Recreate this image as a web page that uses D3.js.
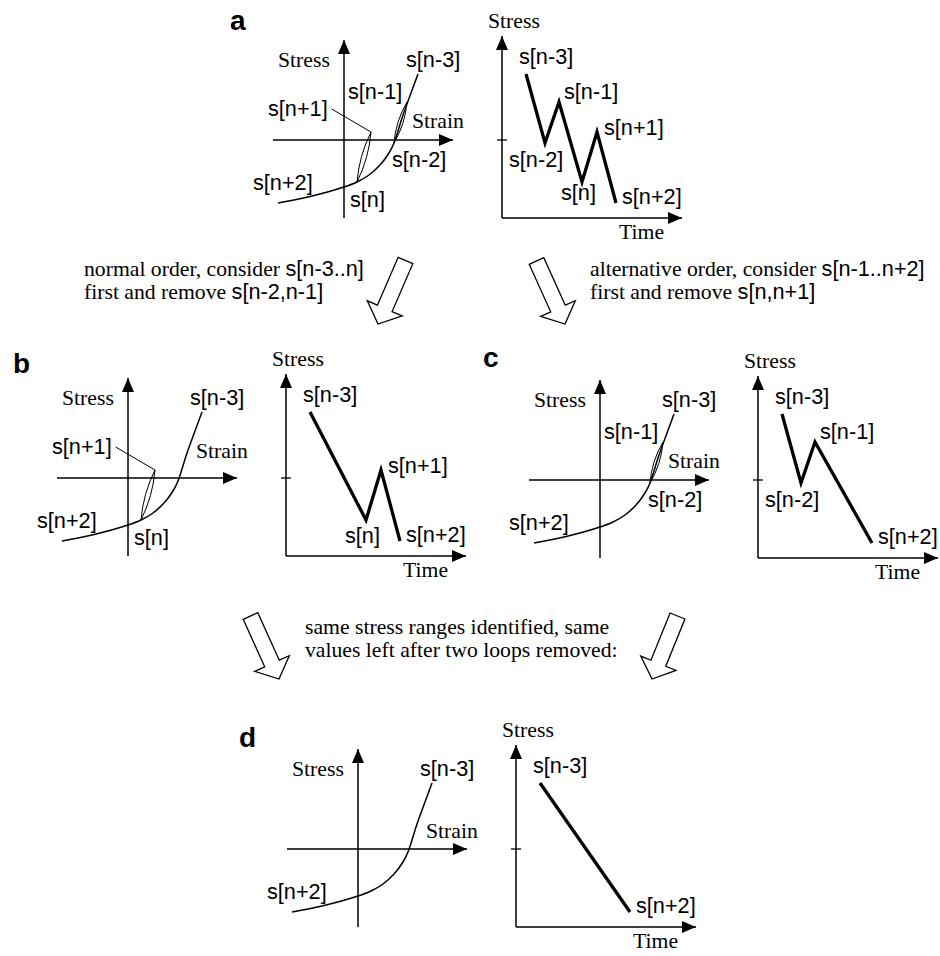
<!DOCTYPE html>
<html>
<head>
<meta charset="utf-8">
<script src="https://cdn.jsdelivr.net/npm/d3@7"></script>
<style>
  body { margin: 0; background: #fff; }
  svg { display: block; }
  .serif { font-family: "Liberation Serif", "Times New Roman", serif; font-size: 21.7px; }
  .sans { font-family: "Liberation Sans", Arial, sans-serif; font-size: 21.7px; }
</style>
</head>
<body>
<svg id="chart" width="940" height="956"></svg>
<script>
// turning points of the stress history
var pointNames = ["s[n-3]", "s[n-2]", "s[n-1]", "s[n]", "s[n+1]", "s[n+2]"];
var pointStress = [6.6, -0.3, 3.8, -4.2, 0.8, -6.3];
var pointStrain = [7.4, 5.0, 6.3, 1.3, 2.7, -6.6];
var pointTime = [2.4, 4.3, 5.7, 8.0, 9.5, 11.4];

// cyclic stress-strain curve
var envelopeStrain = [-6.6, -3.6, 0, 1.3, 2.5, 3.6, 4.5, 5.0, 5.9, 6.7, 7.4];
var envelopeStress = [-6.3, -5.7, -4.7, -4.2, -3.5, -2.5, -1.3, -0.3, 2.5, 4.7, 6.6];

// what is left in each panel (indices into the points above)
var panelIds = ["a", "b", "c", "d"];
var panelPoints = [[0, 1, 2, 3, 4, 5], [0, 3, 4, 5], [0, 1, 2, 5], [0, 5]];
var panelLoops = [[[3, 4], [1, 2]], [[3, 4]], [[1, 2]], []];

// captions: [serif part, sans part]
var noteTopLeft = [["normal order, consider ", "s[n-3..n]"], ["first and remove ", "s[n-2,n-1]"]];
var noteTopRight = [["alternative order, consider ", "s[n-1..n+2]"], ["first and remove ", "s[n,n+1]"]];
var noteBottom = [["same stress ranges identified, same", ""], ["values left after two loops removed:", ""]];

// ---- layout ----
var panelOrigin = [[344, 140], [128, 478], [600, 480], [358, 849]];
var letterPos = [[230, 30], [13, 373], [483, 367], [239, 747]];
var timeShift = 158;
var ssLabelOff = { "s[n-3]": [-12, -7], "s[n-2]": [-2, 24], "s[n-1]": [-59, -3], "s[n]": [-7, 25], "s[n+1]": [-103, -16], "s[n+2]": [-25, -13] };
var thLabelOff = { "s[n-3]": [-7, -10], "s[n-2]": [-36, 24], "s[n-1]": [5, -3], "s[n]": [-21, 18], "s[n+1]": [7, 3], "s[n+2]": [6, 1] };
var thLabelOverride = { "b": { "s[n]": [-21, 23] } };
var strainLabelY = [-12, -20, -12, -11];
var blockArrows = [
  [[405.5, 260.5], [378, 324]],
  [[536.5, 261], [565, 324]],
  [[250.5, 616], [279, 679]],
  [[677.5, 616], [652, 679]]
];

var svg = d3.select("#chart");

svg.append("defs").append("marker")
  .attr("id", "tip")
  .attr("viewBox", "0 -6 14 12")
  .attr("refX", 14).attr("refY", 0)
  .attr("markerUnits", "userSpaceOnUse")
  .attr("markerWidth", 14).attr("markerHeight", 12)
  .attr("orient", "auto")
  .append("path").attr("d", "M0,-6L14,0L0,6Z").attr("fill", "#000");

var strainX = d3.scaleLinear().domain([-7.1, 10.9]).range([-71, 109]);
var stressY = d3.scaleLinear().domain([-7.8, 10]).range([78, -100]);
var timeX = d3.scaleLinear().domain([0, 18]).range([0, 180]);
var timeTop = 10.4;

var envelope = envelopeStrain.map(function (e, i) { return [e, envelopeStress[i]]; });
var curve = d3.line()
  .x(function (d) { return strainX(d[0]); })
  .y(function (d) { return stressY(d[1]); })
  .curve(d3.curveCatmullRom.alpha(0.5));

function axisLine(g, x1, y1, x2, y2) {
  g.append("line")
    .attr("x1", x1).attr("y1", y1).attr("x2", x2).attr("y2", y2)
    .attr("stroke", "#000").attr("stroke-width", 1.5)
    .attr("marker-end", "url(#tip)");
}

function label(g, x, y, txt, cls) {
  return g.append("text").attr("class", cls).attr("x", x).attr("y", y).text(txt);
}

panelIds.forEach(function (id, p) {
  var o = panelOrigin[p];
  svg.append("text")
    .attr("x", letterPos[p][0]).attr("y", letterPos[p][1])
    .attr("font-family", "Liberation Sans, Arial, sans-serif")
    .attr("font-size", 28).attr("font-weight", "bold")
    .text(id);

  // stress-strain plot
  var ss = svg.append("g").attr("transform", "translate(" + o[0] + "," + o[1] + ")");
  axisLine(ss, strainX(-7.1), stressY(0), strainX(10.9), stressY(0));
  axisLine(ss, strainX(0), stressY(-7.8), strainX(0), stressY(10));
  ss.append("path").attr("d", curve(envelope))
    .attr("fill", "none").attr("stroke", "#000").attr("stroke-width", 1.5);

  panelLoops[p].forEach(function (lp) {
    var x1 = strainX(pointStrain[lp[0]]), y1 = stressY(pointStress[lp[0]]);
    var x2 = strainX(pointStrain[lp[1]]), y2 = stressY(pointStress[lp[1]]);
    var mx = (x1 + x2) / 2, my = (y1 + y2) / 2;
    var len = Math.hypot(x2 - x1, y2 - y1);
    var nx = -(y2 - y1) / len * 5, ny = (x2 - x1) / len * 5;
    var path = d3.path();
    path.moveTo(x1, y1);
    path.quadraticCurveTo(mx + nx, my + ny, x2, y2);
    path.quadraticCurveTo(mx - nx, my - ny, x1, y1);
    ss.append("path").attr("d", path.toString())
      .attr("fill", "none").attr("stroke", "#000").attr("stroke-width", 1);
  });

  label(ss, -66, -73, "Stress", "serif");
  label(ss, 68, strainLabelY[p], "Strain", "serif");

  panelPoints[p].forEach(function (k) {
    var name = pointNames[k];
    var px = strainX(pointStrain[k]), py = stressY(pointStress[k]);
    var off = ssLabelOff[name];
    var t = label(ss, px + off[0], py + off[1], name, "sans");
    if (name === "s[n+1]") {
      var w = t.node().getComputedTextLength();
      ss.append("line")
        .attr("x1", px + off[0] + w + 4).attr("y1", py + off[1] - 7)
        .attr("x2", px).attr("y2", py)
        .attr("stroke", "#000").attr("stroke-width", 1);
    }
  });

  // stress-time plot
  var th = svg.append("g").attr("transform", "translate(" + (o[0] + timeShift) + "," + o[1] + ")");
  axisLine(th, timeX(0), stressY(-7.8), timeX(0), stressY(timeTop));
  axisLine(th, timeX(0), stressY(-7.8), timeX(18), stressY(-7.8));
  th.append("line")
    .attr("x1", -5).attr("x2", 5).attr("y1", stressY(0)).attr("y2", stressY(0))
    .attr("stroke", "#000").attr("stroke-width", 1.3);

  var hist = panelPoints[p].map(function (k) { return [pointTime[k], pointStress[k]]; });
  th.append("path")
    .attr("d", d3.line()
      .x(function (d) { return timeX(d[0]); })
      .y(function (d) { return stressY(d[1]); })(hist))
    .attr("fill", "none").attr("stroke", "#000").attr("stroke-width", 3.3)
    .attr("stroke-linejoin", "miter");

  label(th, -14, -112, "Stress", "serif");
  label(th, 117, 99, "Time", "serif");

  panelPoints[p].forEach(function (k) {
    var name = pointNames[k];
    var off = (thLabelOverride[id] && thLabelOverride[id][name]) || thLabelOff[name];
    label(th, timeX(pointTime[k]) + off[0], stressY(pointStress[k]) + off[1], name, "sans");
  });
});

// hollow block arrows between the panels
blockArrows.forEach(function (a) {
  var tail = a[0], tip = a[1];
  var dx = tip[0] - tail[0], dy = tip[1] - tail[1];
  var L = Math.hypot(dx, dy);
  var ux = dx / L, uy = dy / L, px = -uy, py = ux;
  var nk = [tip[0] - ux * 17, tip[1] - uy * 17];
  var pts = [
    [tail[0] + px * 8, tail[1] + py * 8],
    [nk[0] + px * 8, nk[1] + py * 8],
    [nk[0] + px * 19, nk[1] + py * 19],
    tip,
    [nk[0] - px * 19, nk[1] - py * 19],
    [nk[0] - px * 8, nk[1] - py * 8],
    [tail[0] - px * 8, tail[1] - py * 8]
  ];
  svg.append("polygon")
    .attr("points", pts.map(function (q) { return q.join(","); }).join(" "))
    .attr("fill", "#fff").attr("stroke", "#000").attr("stroke-width", 1.3)
    .attr("stroke-linejoin", "miter");
});

function note(lines, x, y0, gap) {
  lines.forEach(function (ln, i) {
    var t = svg.append("text").attr("x", x).attr("y", y0 + i * gap);
    t.append("tspan").attr("class", "serif").text(ln[0]);
    if (ln[1]) t.append("tspan").attr("class", "sans").text(ln[1]);
  });
}
note(noteTopLeft, 84, 276, 23);
note(noteTopRight, 590, 276, 23);
note(noteBottom, 305, 634, 23);
</script>
</body>
</html>
